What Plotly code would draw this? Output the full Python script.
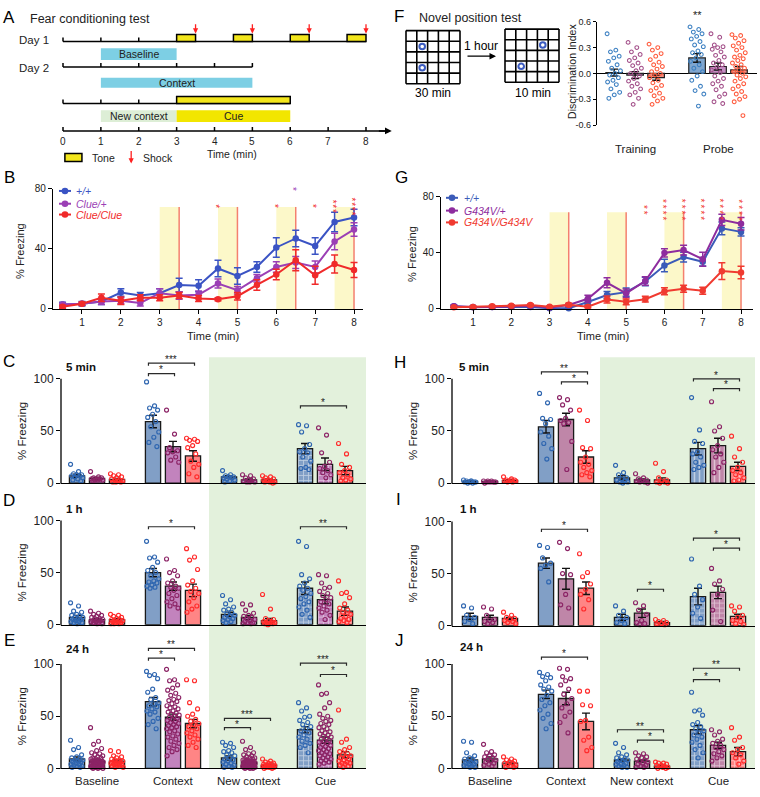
import plotly.graph_objects as go

W, H = 760, 797
FONT = "Liberation Sans, Arial, Helvetica, sans-serif"

# ---------------- DATA ----------------
# Panel A (protocol, minutes)
time_ticks = [0, 1, 2, 3, 4, 5, 6, 7, 8]
tone_starts_day1 = [3, 4.5, 6, 7.5]
tone_len = 0.5
shock_times = [3.5, 5, 6.5, 8]
epoch_baseline = [1, 3]
epoch_context = [1, 5]
epoch_newctx = [1, 3]
epoch_cue = [3, 6]

# Panels B and G (time course, % freezing)
time_pts = [0.5, 1, 1.5, 2, 2.5, 3, 3.5, 4, 4.5, 5, 5.5, 6, 6.5, 7, 7.5, 8]
B_wt = [3, 3.5, 5, 11, 9, 10.5, 16, 15.5, 27, 22, 28, 41, 47, 42, 58, 61]
B_wt_sem = [1.5, 1.5, 2, 2.5, 2, 3, 4.5, 4, 5.5, 5.5, 3.5, 6.5, 5.5, 5.5, 6.5, 5.5]
B_het = [3, 3.5, 5, 5.5, 4, 10.5, 9, 9.5, 17, 12.5, 20.5, 28, 31, 28, 45, 53]
B_het_sem = [1, 1, 2, 2, 2, 3, 2.5, 2.5, 3, 2.5, 2.5, 3.5, 4, 4, 5.5, 4.5]
B_hom = [1.5, 3.5, 7.5, 5.5, 7.5, 7.5, 9, 7, 6.5, 8.5, 16, 23, 32.5, 22.5, 30, 26]
B_hom_sem = [1, 1, 2.5, 2.5, 2, 2, 2, 2, 1, 2.5, 3.5, 3.5, 7, 6, 6, 5]
B_stars = [(4.5, 1, "hom"), (6, 1, "hom"), (6.5, 1, "het"), (7, 1, "hom"), (7.5, 3, "hom"), (8, 4, "hom")]

G_wt = [1.9, 1.2, 1.4, 1.4, 1.4, 0.5, 0.5, 5, 10, 12, 19.6, 31, 37, 33.7, 57.5, 55]
G_wt_sem = [0.8, 0.5, 0.5, 0.5, 0.5, 0.3, 0.3, 2, 2.5, 3, 3, 4.5, 3.5, 3, 4.5, 3]
G_het = [2, 1.4, 1.4, 2, 2.3, 1, 2.8, 7.3, 18.7, 11.2, 20, 40, 42, 35.5, 63.6, 60.8]
G_het_sem = [0.8, 0.6, 0.6, 0.8, 0.8, 0.5, 1, 2.5, 3.5, 3, 3, 3, 3.5, 5, 4, 4.5]
G_hom = [1.2, 1.4, 1.9, 2.3, 2.8, 1.6, 3, 1.6, 6.8, 5.1, 7, 12.6, 14.5, 13, 27, 26]
G_hom_sem = [0.5, 0.5, 0.6, 0.6, 0.8, 0.6, 1, 0.8, 2.5, 2, 2, 2.5, 2.5, 2.5, 6, 4.5]
G_stars = [(5.5, 2), (6, 4), (6.5, 4), (7, 4), (7.5, 4), (8, 4)]

# Panel F (discrimination index)
F_groups = ["Training", "Probe"]
F_mean = [[0.01, 0.18], [-0.02, 0.08], [-0.05, 0.04]]
F_sem = [[0.04, 0.05], [0.04, 0.04], [0.03, 0.04]]
F_dots = [
    [[0.46, 0.27, 0.25, 0.20, 0.18, 0.14, 0.10, 0.06, 0.03, 0.0, -0.02, -0.05, -0.08, -0.10, -0.13, -0.18, -0.22, -0.25, -0.29],
     [0.54, 0.51, 0.48, 0.46, 0.43, 0.40, 0.37, 0.33, 0.31, 0.26, 0.24, 0.22, 0.18, 0.14, 0.10, 0.06, 0.02, -0.03, -0.08, -0.15, -0.20, -0.24, -0.38]],
    [[0.36, 0.30, 0.25, 0.22, 0.18, 0.15, 0.12, 0.09, 0.06, 0.03, 0.0, -0.03, -0.06, -0.09, -0.12, -0.15, -0.18, -0.22, -0.25, -0.29, -0.36],
     [0.46, 0.42, 0.33, 0.31, 0.30, 0.28, 0.25, 0.21, 0.19, 0.15, 0.12, 0.10, 0.07, 0.04, 0.01, -0.03, -0.06, -0.09, -0.12, -0.15, -0.19, -0.24, -0.27, -0.33, -0.35]],
    [[0.34, 0.30, 0.27, 0.23, 0.20, 0.16, 0.13, 0.10, 0.08, 0.05, 0.02, 0.0, -0.02, -0.05, -0.08, -0.11, -0.14, -0.17, -0.20, -0.23, -0.26, -0.29, -0.32, -0.36],
     [0.45, 0.44, 0.41, 0.38, 0.35, 0.32, 0.30, 0.27, 0.24, 0.21, 0.19, 0.17, 0.15, 0.12, 0.10, 0.08, 0.06, 0.04, 0.02, 0.0, -0.02, -0.04, -0.06, -0.09, -0.12, -0.15, -0.18, -0.21, -0.24, -0.27, -0.30, -0.33, -0.49]],
]
F_train_cells = [(1, 1), (1, 3)]
F_test_cells = [(3, 1), (1, 3)]

# Bar panels: categories
categories = ["Baseline", "Context", "New context", "Cue"]

C_mean = [[7, 59, 6, 33], [4.5, 35, 3, 18], [3.5, 26, 3, 12]]
C_sem = [[1.5, 6, 1, 5], [1, 5, 1, 6], [1, 5, 1, 4]]
C_dots = [
    [[18, 11, 9, 8, 8, 7, 7, 6, 5, 4, 3, 2], [97, 74, 72, 70, 66, 63, 59, 54, 49, 44, 39, 35], [12, 8, 7, 6, 6, 5, 5, 4, 3, 2, 1], [56, 55, 49, 37, 33, 30, 29, 25, 21, 15, 14, 13]],
    [[11, 6, 5, 5, 4, 4, 4, 3, 3, 3, 2], [70, 47, 34, 31, 30, 29, 25, 22, 20], [8, 7, 5, 4, 3, 2, 2, 1, 1, 1], [53, 46, 29, 20, 16, 14, 12, 10, 8, 5]],
    [[9, 8, 7, 6, 5, 4, 3, 3, 2, 2, 1, 1, 1], [43, 42, 41, 40, 36, 34, 28, 21, 18, 15, 9, 6], [7, 6, 5, 4, 3, 3, 2, 2, 1, 1, 1, 0], [38, 28, 18, 15, 12, 10, 8, 5, 4, 3, 2]],
]
C_brackets = [(1, 0, 1, 105, "*"), (1, 0, 2, 115, "***"), (3, 0, 2, 74, "*")]

D_mean = [[7, 50, 10, 35], [5, 37, 7, 24], [5, 33, 4, 13]]
D_sem = [[2, 4, 2, 6], [1, 4, 2, 4], [1, 6, 2, 4]]
D_dots = [
    [[21, 18, 13, 12, 10, 9, 8, 7, 7, 6, 5, 5, 4, 3, 3, 2, 2, 1], [80, 65, 64, 60, 55, 52, 50, 47, 44, 42, 41, 40, 38, 37, 36, 35], [28, 24, 20, 17, 15, 14, 12, 10, 9, 8, 7, 6, 5, 4, 3, 2], [80, 75, 48, 44, 40, 37, 35, 33, 30, 27, 25, 22, 20, 17, 14, 10, 7]],
    [[13, 11, 10, 9, 8, 7, 6, 6, 5, 5, 4, 4, 3, 3, 2, 2, 1, 1], [63, 52, 50, 47, 42, 40, 37, 36, 35, 33, 30, 28, 25, 22, 20, 18, 16], [20, 19, 14, 11, 9, 8, 7, 6, 5, 4, 3, 2, 2, 1, 1], [48, 47, 40, 36, 35, 32, 30, 28, 26, 24, 22, 20, 18, 16, 14, 12, 9, 5]],
    [[10, 9, 8, 7, 6, 5, 5, 4, 4, 3, 3, 2, 2, 1, 1, 1], [73, 65, 62, 53, 42, 38, 35, 32, 30, 26, 22, 18, 15, 12], [29, 15, 6, 5, 4, 3, 3, 2, 2, 1, 1, 1, 0], [42, 31, 30, 26, 20, 16, 14, 12, 10, 8, 6, 5, 4, 3, 2]],
]
D_brackets = [(1, 0, 2, 94, "*"), (3, 0, 2, 94, "**")]

E_mean = [[9, 64, 10, 37], [7, 49, 6, 27], [7, 43, 3, 13]]
E_sem = [[2, 4, 2, 3], [1, 3, 1, 3], [1, 4, 1, 3]]
E_dots = [
    [[27, 20, 18, 13, 11, 10, 9, 8, 8, 7, 6, 6, 5, 4, 4, 3, 2, 2, 1, 1],
     [93, 90, 89, 86, 76, 73, 68, 66, 63, 62, 60, 59, 57, 55, 54, 52, 48, 45, 42, 38],
     [25, 24, 22, 20, 17, 16, 15, 13, 12, 10, 9, 8, 7, 6, 5, 4, 3, 2, 1, 1],
     [63, 58, 55, 50, 49, 46, 44, 42, 40, 38, 36, 34, 32, 30, 28, 26, 24, 22, 20, 15]],
    [[39, 26, 23, 19, 17, 15, 14, 13, 12, 11, 10, 10, 9, 9, 8, 8, 7, 7, 7, 6, 6, 6, 5, 5, 5, 5, 4, 4, 4, 4, 3, 3, 3, 3, 2, 2, 2, 2, 1, 1, 1, 1, 0, 0, 0],
     [95, 85, 84, 80, 77, 75, 72, 70, 68, 66, 65, 64, 62, 60, 59, 58, 57, 55, 54, 53, 52, 51, 50, 49, 48, 47, 46, 45, 44, 43, 42, 41, 40, 39, 38, 36, 35, 33, 31, 30, 28, 26, 24, 22, 20, 18, 16, 12],
     [26, 20, 18, 15, 14, 13, 12, 11, 10, 10, 9, 9, 8, 8, 7, 7, 7, 6, 6, 6, 5, 5, 5, 5, 4, 4, 4, 4, 3, 3, 3, 3, 3, 2, 2, 2, 2, 2, 1, 1, 1, 1, 1, 0, 0, 0],
     [80, 72, 71, 63, 58, 52, 50, 48, 46, 45, 43, 42, 40, 39, 38, 36, 35, 34, 33, 32, 31, 30, 29, 28, 27, 26, 25, 24, 23, 22, 21, 20, 19, 18, 17, 16, 15, 14, 13, 12, 11, 10, 9, 8, 7, 6, 5, 4]],
    [[17, 16, 12, 11, 10, 9, 8, 8, 7, 7, 6, 6, 5, 5, 4, 4, 3, 3, 2, 2, 1, 1],
     [85, 84, 63, 57, 52, 50, 47, 45, 43, 42, 40, 38, 36, 34, 32, 30, 28, 25, 22, 20],
     [9, 7, 6, 5, 5, 4, 4, 3, 3, 3, 2, 2, 2, 2, 1, 1, 1, 1, 0, 0],
     [56, 28, 25, 20, 18, 16, 14, 13, 12, 11, 10, 9, 8, 7, 6, 5, 5, 4, 3, 2, 1]],
]
E_brackets = [(1, 0, 1, 105.7, "*"), (1, 0, 2, 115, "**"), (2, 0, 1, 39, "*"), (2, 0, 2, 48, "***"), (3, 0, 2, 101, "***"), (3, 1, 2, 90, "*")]

H_mean = [[1.5, 54, 5, 33], [1.5, 61, 3, 36], [2.5, 25, 3, 16]]
H_sem = [[0.5, 6, 2, 6], [0.5, 6, 1, 7], [0.7, 6, 2, 4]]
H_dots = [
    [[3, 2, 2, 1, 1, 1, 0, 0, 1, 2], [86, 77, 62, 61, 57, 49, 45, 38, 33, 23], [17, 10, 8, 5, 4, 3, 2, 1, 1, 0], [82, 51, 40, 38, 30, 28, 25, 20, 17, 15, 13]],
    [[2, 2, 1, 1, 1, 0, 1, 2, 1], [82, 80, 75, 70, 62, 60, 58, 57, 40, 13], [9, 5, 4, 3, 2, 2, 1, 1, 0], [78, 54, 50, 43, 36, 32, 28, 25, 20, 15, 10]],
    [[6, 4, 3, 3, 2, 2, 1, 1, 2, 3], [70, 60, 34, 33, 25, 20, 18, 15, 12, 10, 8, 6], [19, 11, 5, 3, 2, 1, 1, 0, 0], [45, 33, 25, 20, 15, 12, 10, 8, 5, 3, 2]],
]
H_brackets = [(1, 0, 2, 106.6, "**"), (1, 1, 2, 97, "*"), (3, 0, 2, 100, "*"), (3, 1, 2, 90.6, "*")]

I_mean = [[9, 60, 8, 28], [8, 45, 12, 32], [7, 36, 3, 9]]
I_sem = [[3, 5, 3, 8], [2, 10, 4, 6], [1, 6, 1, 2]]
I_dots = [
    [[19, 17, 10, 8, 6, 4, 2], [77, 75, 65, 60, 58, 55, 42], [19, 14, 10, 8, 5, 3, 2], [64, 38, 30, 25, 18, 12, 7]],
    [[18, 16, 10, 6, 5, 4, 3, 2], [80, 74, 50, 49, 30, 20, 17], [22, 19, 15, 11, 5, 3, 2, 1], [55, 43, 40, 35, 30, 15, 4]],
    [[13, 10, 8, 7, 6, 5, 4, 3, 2], [69, 51, 47, 40, 35, 30, 25, 16], [6, 5, 4, 3, 2, 2, 1], [19, 18, 14, 10, 8, 5, 4, 2, 1]],
]
I_brackets = [(1, 0, 2, 92.5, "*"), (2, 1, 2, 35, "*"), (3, 0, 2, 84, "*"), (3, 1, 2, 74.5, "*")]

J_mean = [[8, 71, 8, 37], [9, 67, 7, 22], [5, 45, 2, 16]]
J_sem = [[2, 4, 1, 4], [2, 6, 1, 3], [1, 8, 1, 4]]
J_dots = [
    [[26, 25, 15, 12, 10, 9, 8, 7, 6, 6, 5, 4, 4, 3, 2, 2, 1, 1], [92, 90, 88, 87, 84, 80, 78, 76, 74, 70, 66, 63, 60, 56, 52, 48, 43, 38],
     [24, 20, 15, 13, 11, 10, 9, 8, 8, 7, 6, 5, 4, 4, 3, 2, 1, 1], [73, 56, 55, 51, 44, 42, 40, 38, 36, 34, 32, 30, 28, 25, 22, 18, 15, 10]],
    [[23, 16, 15, 13, 12, 11, 10, 9, 8, 7, 6, 5, 4, 3, 2], [96, 95, 88, 86, 84, 80, 76, 71, 67, 62, 58, 54, 50, 44, 34],
     [15, 14, 12, 11, 10, 9, 8, 7, 6, 5, 4, 3, 2, 1, 1], [37, 35, 32, 28, 26, 24, 22, 20, 18, 16, 14, 12, 10, 7]],
    [[11, 9, 8, 7, 6, 5, 5, 4, 3, 2, 1, 1], [74, 74, 61, 60, 46, 45, 30, 27, 20, 17],
     [6, 5, 5, 4, 3, 3, 2, 2, 1, 1, 0, 0], [39, 30, 27, 20, 18, 15, 13, 10, 7, 4]],
]
J_brackets = [(1, 0, 2, 106.6, "*"), (2, 0, 2, 37, "**"), (2, 1, 2, 27, "*"), (3, 0, 1, 85, "*"), (3, 0, 2, 96, "**")]

# ---------------- STYLE ----------------
BAR_FILL = ["#819fc6", "#c283bd", "#ff8585"]
BAR_FILL_R = ["#819fc6", "#bf86a8", "#ff8585"]
DOT_COL = ["#2f66b0", "#8c2466", "#ff2b2b"]
LINE_B = {"wt": "#3a53c4", "het": "#9b3fb5", "hom": "#f02a2a"}
LINE_G = {"wt": "#3b5bb8", "het": "#8e2c9e", "hom": "#f03a30"}
YELLOW = "#f3e61c"
SKY = "#7dcfe4"
GREEN_BG = "#e3f1dc"

def fx(p):
    return p / W

def fy(p):
    return 1 - p / H

fig = go.Figure()
shapes = []
annos = []
layout = {}

def ptext(xp, yp, s, size=11, color="black", xanchor="center", yanchor="middle", angle=0):
    annos.append(dict(x=fx(xp), y=fy(yp), xref="paper", yref="paper", text=s, showarrow=False,
                      font=dict(family=FONT, size=size, color=color), xanchor=xanchor,
                      yanchor=yanchor, textangle=angle))

def pline(x0, y0, x1, y1, color="black", w=1.5):
    shapes.append(dict(type="line", xref="paper", yref="paper", x0=fx(x0), y0=fy(y0), x1=fx(x1), y1=fy(y1),
                       line=dict(color=color, width=w)))

# green background rectangles (New context / Cue)
for (x0, x1) in [(209, 366), (600, 755)]:
    shapes.append(dict(type="rect", xref="paper", yref="paper", x0=fx(x0), x1=fx(x1), y0=fy(775), y1=fy(357),
                       fillcolor=GREEN_BG, line=dict(width=0), layer="below"))

# ---------------- PANEL A ----------------
A_X0, A_PPM = 63, 37.875
layout["xaxis"] = dict(domain=[0, fx(390)], range=[-A_X0 / A_PPM, (390 - A_X0) / A_PPM], visible=False, anchor="y")
layout["yaxis"] = dict(domain=[fy(170), 1], range=[170, 0], visible=False, anchor="x")
fig.add_trace(go.Scatter(x=[], y=[], xaxis="x", yaxis="y", showlegend=False))

def aline(t0, t1, y0, y1, color="black", w=1.5):
    shapes.append(dict(type="line", xref="x", yref="y", x0=t0, x1=t1, y0=y0, y1=y1, line=dict(color=color, width=w)))

def arect(t0, t1, y0, y1, fill, border=None):
    shapes.append(dict(type="rect", xref="x", yref="y", x0=t0, x1=t1, y0=y0, y1=y1, fillcolor=fill,
                       line=dict(color=border if border else fill, width=1.5 if border else 0)))

def atext(t, y, s, size=10.5, xanchor="center"):
    annos.append(dict(x=t, y=y, xref="x", yref="y", text=s, showarrow=False, xanchor=xanchor, yanchor="middle",
                      font=dict(family=FONT, size=size, color="#222")))

def aarrow(t, ytail, yhead, color="#ff2020", w=1.3):
    annos.append(dict(x=t, y=yhead, ax=t, ay=ytail, xref="x", yref="y", axref="x", ayref="y", text="",
                      showarrow=True, arrowhead=2, arrowsize=0.8, arrowwidth=w, arrowcolor=color, standoff=0))

# Day 1
aline(0, time_ticks[-1], 36, 36)
for t in time_ticks[:3]:
    aline(t, t, 32, 36)
for s in tone_starts_day1:
    arect(s, s + tone_len, 29, 36, YELLOW, "black")
for t in shock_times:
    aarrow(t, 17, 28)
ptext(34, 35, "Day 1", size=11.5, color="#222")
# Baseline
arect(epoch_baseline[0], epoch_baseline[1], 43, 55, SKY)
atext(sum(epoch_baseline) / 2, 49, "Baseline")
# Day 2
ptext(34, 63, "Day 2", size=11.5, color="#222")
aline(0, epoch_context[1], 62, 62)
for t in time_ticks[:6]:
    aline(t, t, 58, 62)
arect(epoch_context[0], epoch_context[1], 73, 83, SKY)
atext(sum(epoch_context) / 2, 78, "Context")
# cue day
aline(0, epoch_cue[1], 99, 99)
for t in time_ticks[:3]:
    aline(t, t, 95, 99)
arect(epoch_cue[0], epoch_cue[1], 92, 99, YELLOW, "black")
arect(epoch_newctx[0], epoch_newctx[1], 106, 118, "#ddeed6")
atext(sum(epoch_newctx) / 2, 112, "New context")
arect(epoch_cue[0], epoch_cue[1], 106, 118, "#f2e600")
atext(sum(epoch_cue) / 2, 112, "Cue")
# main time axis
aline(0, 8.5, 127, 127)
annos.append(dict(x=8.68, y=127, ax=8.3, ay=127, xref="x", yref="y", axref="x", ayref="y", text="",
                  showarrow=True, arrowhead=2, arrowsize=0.9, arrowwidth=1.5, arrowcolor="black", standoff=0))
for t in time_ticks:
    aline(t, t, 123, 127)
    atext(t, 137.5, str(t), size=10)
atext(4.45, 150, "Time (min)", size=10.5)
# legend
arect(0.05, 0.5, 150, 158, YELLOW, "black")
atext(0.72, 154.5, "Tone", size=10.5, xanchor="left")
aarrow(1.8, 146, 160)
atext(2.05, 154.5, "Shock", size=10.5, xanchor="left")

ptext(9, 12, "A", size=17)
ptext(28, 13, "Fear conditioning test", size=12.5, xanchor="left", color="#222")

# ---------------- PANEL F schematic ----------------
ptext(399, 11, "F", size=17)
ptext(417, 12, "Novel position test", size=12.5, xanchor="left", color="#222")

def grid(x0, y0, size, cells):
    n = 5
    c = size / n
    for i in range(n + 1):
        pline(x0 + i * c, y0, x0 + i * c, y0 + size, "black", 1.6)
        pline(x0, y0 + i * c, x0 + size, y0 + i * c, "black", 1.6)
    for (ci, ri) in cells:
        cx = x0 + (ci + 0.5) * c
        cy = y0 + (ri + 0.5) * c
        shapes.append(dict(type="circle", xref="paper", yref="paper", x0=fx(cx - 2.8), x1=fx(cx + 2.8),
                           y0=fy(cy + 2.8), y1=fy(cy - 2.8), line=dict(color="#3b5bc0", width=2)))

grid(406, 25, 54, F_train_cells)
grid(505, 23.5, 54, F_test_cells)
annos.append(dict(x=fx(496), y=fy(51), ax=-30, ay=0, xref="paper", yref="paper", axref="pixel",
                  ayref="pixel", text="", showarrow=True, arrowhead=2, arrowsize=1, arrowwidth=1.3,
                  arrowcolor="black", standoff=0))
ptext(481, 41, "1 hour", size=12)
ptext(433, 88, "30 min", size=12)
ptext(533, 88, "10 min", size=12)

# ---------------- PANEL F chart ----------------
F_OFFS = [-0.253, 0.0, 0.253]
F_FILL = ["#7fa6d0", "#c68fc4", "#f88b7c"]
F_DOT = ["#3d80c2", "#a3508a", "#ff5a3c"]
layout["xaxis2"] = dict(domain=[fx(597), fx(757)], range=[-0.46, 1.47], visible=False, anchor="y2")
layout["yaxis2"] = dict(domain=[fy(121), fy(16)], range=[-0.6, 0.6], tickvals=[-0.6, -0.3, 0, 0.3, 0.6],
                        ticktext=["-0.6", "-0.3", "0.0", "0.3", "0.6"], ticks="outside", ticklen=3,
                        tickwidth=1.3, tickcolor="black", showline=True, linecolor="black", linewidth=1.3,
                        zeroline=True, zerolinecolor="black", zerolinewidth=1.3, showgrid=False,
                        tickfont=dict(family=FONT, size=9, color="#222"), anchor="x2")
for k in range(3):
    xs = [g + F_OFFS[k] for g in range(2)]
    fig.add_trace(go.Bar(x=xs, y=F_mean[k], width=0.2, xaxis="x2", yaxis="y2", showlegend=False,
                         marker=dict(color=F_FILL[k], line=dict(color="#222", width=1.2)),
                         error_y=dict(type="data", array=F_sem[k], color="#111", thickness=1.4, width=4)))
for k in range(3):
    dx, dy = [], []
    for g in range(2):
        for i, v in enumerate(F_dots[k][g]):
            dx.append(g + F_OFFS[k] + ((i * 0.618034) % 1 - 0.5) * 0.17)
            dy.append(v)
    fig.add_trace(go.Scatter(x=dx, y=dy, mode="markers", xaxis="x2", yaxis="y2", showlegend=False, cliponaxis=False,
                             marker=dict(symbol="circle-open", size=3.8, color=F_DOT[k], line=dict(width=1.05))))
for g, name in enumerate(F_groups):
    annos.append(dict(x=g, y=fy(137), xref="x2", yref="paper", text=name, showarrow=False,
                      font=dict(family=FONT, size=11.5, color="#222")))
# significance above probe +/+ (y in paper units: above the axis range)
annos.append(dict(x=1 + F_OFFS[0], y=fy(9), xref="x2", yref="paper", text="**", showarrow=False,
                  yanchor="middle", font=dict(family=FONT, size=11, color="#222")))
ptext(572, 67, "Discrimination Index", size=10.5, angle=-90, color="#222")

# ---------------- PANELS B and G ----------------
def timecourse(n, xdom, xr, ydom, series, cols, stars, star_base, star_step, sep, shade_top, letter, lx, names, leg):
    ppu = (ydom[0] - ydom[1]) / 80.0
    layout[f"xaxis{n}"] = dict(domain=[fx(xdom[0]), fx(xdom[1])], range=xr, tickvals=list(range(1, 9)),
                               ticks="outside", ticklen=4, tickwidth=1.3, tickcolor="black", showline=True,
                               linecolor="black", linewidth=1.3, showgrid=False, zeroline=False,
                               tickfont=dict(family=FONT, size=10, color="#222"), anchor=f"y{n}")
    layout[f"yaxis{n}"] = dict(domain=[fy(ydom[0]), fy(ydom[1])], range=[0, 80], tickvals=[0, 40, 80],
                               ticks="outside", ticklen=4, tickwidth=1.3, tickcolor="black", showline=True,
                               linecolor="black", linewidth=1.3, showgrid=False, zeroline=False,
                               tickfont=dict(family=FONT, size=10, color="#222"), anchor=f"x{n}")
    for s in tone_starts_day1:
        shapes.append(dict(type="rect", xref=f"x{n}", yref=f"y{n}", x0=s, x1=s + tone_len, y0=0, y1=shade_top,
                           fillcolor="#fcf8c9", line=dict(width=0), layer="below"))
    for t in shock_times:
        shapes.append(dict(type="line", xref=f"x{n}", yref=f"y{n}", x0=t, x1=t, y0=0, y1=shade_top,
                           line=dict(color="#f4806f", width=1.5), layer="below"))
    for key, (ys, es) in series.items():
        fig.add_trace(go.Scatter(x=time_pts, y=ys, mode="lines+markers", xaxis=f"x{n}", yaxis=f"y{n}",
                                 showlegend=False, cliponaxis=False,
                                 line=dict(color=cols[key], width=2), marker=dict(size=6.5, color=cols[key]),
                                 error_y=dict(type="data", array=es, color=cols[key], thickness=1.5, width=3.5)))
    # stacked significance stars (one rotated string per time point), y placed in paper units
    for (t, cnt, key) in stars:
        base = star_base + (11 if key == "het" else 0)
        yc = base + (cnt - 1) * star_step / 2
        annos.append(dict(x=t, y=fy(ydom[0] - yc * ppu), xref=f"x{n}", yref="paper",
                          text=sep.join(["*"] * cnt), showarrow=False, textangle=90, xshift=-2.5,
                          font=dict(family=FONT, size=10, color=cols[key])))
    # legend
    for (key, label), yp in zip(names, leg["ys"]):
        pline(leg["x0"], yp, leg["x1"], yp, cols[key], 2)
        cx = (leg["x0"] + leg["x1"]) / 2
        shapes.append(dict(type="circle", xref="paper", yref="paper", x0=fx(cx - 3.3), x1=fx(cx + 3.3),
                           y0=fy(yp + 3.3), y1=fy(yp - 3.3), fillcolor=cols[key], line=dict(width=0)))
        ptext(leg["tx"], yp, f"<i>{label}</i>", size=10.5, color=cols[key], xanchor="left")
    ptext(lx, 174, letter, size=17)

timecourse(3, (53, 363), [0.254, 8.231], (308, 186),
           {"wt": (B_wt, B_wt_sem), "het": (B_het, B_het_sem), "hom": (B_hom, B_hom_sem)},
           LINE_B, B_stars, 71.5, 3.0, "\u200a", 68, "B", 9,
           [("wt", "+/+"), ("het", "Clue/+"), ("hom", "Clue/Clue")],
           {"ys": [188, 201, 212], "x0": 59, "x1": 71, "tx": 74})
ptext(213, 335, "Time (min)", size=11, color="#222")
ptext(20, 249, "% Freezing", size=11, angle=-90, color="#222")

timecourse(4, (441, 753), [0.164, 8.313], (308, 194),
           {"wt": (G_wt, G_wt_sem), "het": (G_het, G_het_sem), "hom": (G_hom, G_hom_sem)},
           LINE_G, [(t, c, "hom") for (t, c) in G_stars], 73.7, 4.2, "\u2009", 69, "G", 401,
           [("wt", "+/+"), ("het", "G434V/+"), ("hom", "G434V/G434V")],
           {"ys": [195, 208, 220], "x0": 446, "x1": 458, "tx": 462})
ptext(603, 335, "Time (min)", size=11, color="#222")
ptext(412, 252, "% Freezing", size=11, angle=-90, color="#222")

# ---------------- BAR PANELS ----------------
OFFS = [-0.263, 0.0, 0.263]
PPU = 1.06

def bar_panel(n, xdom, grp0, y0px, means, sems, dots, brackets, cue_pat, fills, title, tx, ty, letter, lpos, cats):
    sp = 76.0
    xr = [(xdom[0] - grp0) / sp, (xdom[1] - grp0) / sp]
    ytop = y0px - 120 * PPU
    layout[f"xaxis{n}"] = dict(domain=[fx(xdom[0]), fx(xdom[1])], range=xr, showline=True, linecolor="black",
                               linewidth=1.3, showticklabels=False, ticks="", showgrid=False, zeroline=False,
                               anchor=f"y{n}")
    layout[f"yaxis{n}"] = dict(domain=[fy(y0px), fy(ytop)], range=[0, 120], tickvals=[0, 50, 100],
                               ticks="outside", ticklen=4, tickwidth=1.3, tickcolor="black", showline=False,
                               showgrid=False, zeroline=False,
                               tickfont=dict(family=FONT, size=12, color="#222"), anchor=f"x{n}")
    pline(xdom[0], y0px + 0.6, xdom[0], y0px - 100 * PPU, "black", 1.3)
    for k in range(3):
        xs = [g + OFFS[k] for g in range(4)]
        fig.add_trace(go.Bar(x=xs, y=means[k], width=0.2, xaxis=f"x{n}", yaxis=f"y{n}", showlegend=False,
                             marker=dict(color=fills[k], line=dict(color="#1a1a1a", width=1.3),
                                         pattern=dict(shape=["", "", "", cue_pat], fgcolor="white",
                                                      size=5, solidity=0.3)),
                             error_y=dict(type="data", array=sems[k], color="#111", thickness=1.4, width=4)))
    for k in range(3):
        dx, dy = [], []
        for g in range(4):
            for i, v in enumerate(dots[k][g]):
                dx.append(g + OFFS[k] + ((i * 0.618034) % 1 - 0.5) * 0.17)
                dy.append(v)
        fig.add_trace(go.Scatter(x=dx, y=dy, mode="markers", xaxis=f"x{n}", yaxis=f"y{n}", showlegend=False,
                                 cliponaxis=False,
                                 marker=dict(symbol="circle-open", size=4, color=DOT_COL[k],
                                             line=dict(width=1.15))))
    for (g, a, b, yv, lab) in brackets:
        x0 = g + OFFS[a] - 0.06
        x1 = g + OFFS[b] + 0.02
        shapes.append(dict(type="path", xref=f"x{n}", yref=f"y{n}",
                           path=f"M {x0},{yv - 2.5} L {x0},{yv} L {x1},{yv} L {x1},{yv - 2.5}",
                           line=dict(color="#2a2a2a", width=1.2)))
        annos.append(dict(x=(x0 + x1) / 2, y=yv + 3.5, xref=f"x{n}", yref=f"y{n}", text=lab, showarrow=False,
                          yanchor="middle", font=dict(family=FONT, size=10, color="#222")))
    ptext(tx, ty, f"<b>{title}</b>", size=11.5, xanchor="left", color="#111")
    ptext(lpos[0], lpos[1], letter, size=17)
    ptext(xdom[0] - 39, y0px - 50 * PPU, "% Freezing", size=11.5, angle=-90, color="#222")
    if cats:
        for g, c in enumerate(categories):
            annos.append(dict(x=g, y=fy(788), xref=f"x{n}", yref="paper", text=c, showarrow=False,
                              yanchor="middle", font=dict(family=FONT, size=11.5, color="#222")))

bar_panel(5, (61, 366), 97, 485, C_mean, C_sem, C_dots, C_brackets, "+", BAR_FILL, "5 min", 64, 367, "C", (9, 361), False)
bar_panel(6, (61, 366), 97, 629, D_mean, D_sem, D_dots, D_brackets, "+", BAR_FILL, "1 h", 64, 511, "D", (9, 503), False)
bar_panel(7, (61, 366), 97, 775, E_mean, E_sem, E_dots, E_brackets, "+", BAR_FILL, "24 h", 64, 654, "E", (9, 645), True)
bar_panel(8, (452, 755), 490, 485, H_mean, H_sem, H_dots, H_brackets, "|", BAR_FILL_R, "5 min", 457, 367, "H", (400, 362), False)
bar_panel(9, (452, 755), 490, 630, I_mean, I_sem, I_dots, I_brackets, "+", BAR_FILL_R, "1 h", 458, 511, "I", (398, 502), False)
bar_panel(10, (452, 755), 490, 775, J_mean, J_sem, J_dots, J_brackets, "+", BAR_FILL_R, "24 h", 458, 652, "J", (399, 645), True)

fig.update_layout(
    width=W, height=H, margin=dict(l=0, r=0, t=0, b=0), paper_bgcolor="white",
    plot_bgcolor="rgba(0,0,0,0)", showlegend=False, barmode="overlay",
    font=dict(family=FONT, size=11, color="#222"), shapes=shapes, annotations=annos, **layout
)
fig.write_html("out.html", config={"displayModeBar": False},
               post_script="document.body.style.margin='0';document.body.style.padding='0';")
